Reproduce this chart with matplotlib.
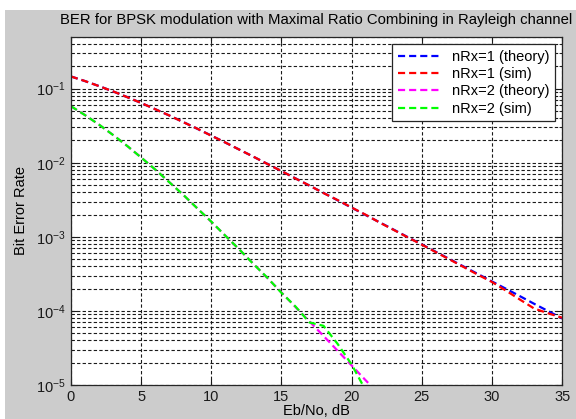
import matplotlib
matplotlib.use('Agg')
import matplotlib.pyplot as plt
from matplotlib.patches import Rectangle
from matplotlib.ticker import LogLocator, FixedLocator
import numpy as np

plt.rcParams['font.family'] = ['Liberation Sans', 'DejaVu Sans']
plt.rcParams['mathtext.default'] = 'regular'

# Eb/No in dB
ebno_1 = list(range(0, 36))
ebno_2 = list(range(0, 23))

# nRx=1, theory and simulation
ber_1_theory = [0.1464, 0.1267, 0.1085, 0.0919, 0.0771, 0.0642, 0.0530, 0.0435, 0.0355, 0.0288,
                0.0233, 0.01875, 0.01506, 0.01208, 0.00966, 0.00772, 0.00616, 0.00491, 0.00392, 0.00312,
                0.00248, 0.00197, 0.00157, 0.00125, 0.000992, 0.000791, 0.000628, 0.000499, 0.000396, 0.000315,
                0.000250, 0.000199, 0.000158, 0.000125, 0.0000996, 0.0000791]
ber_1_sim = [0.1462, 0.1268, 0.1083, 0.0921, 0.0770, 0.0643, 0.0529, 0.0436, 0.0354, 0.0289,
             0.0232, 0.01878, 0.01504, 0.01210, 0.00964, 0.00774, 0.00614, 0.00493, 0.00390, 0.00314,
             0.00249, 0.00199, 0.00156, 0.00124, 0.000985, 0.000786, 0.000622, 0.000493, 0.000390, 0.000308,
             0.000246, 0.000188, 0.000142, 0.000108, 0.0000930, 0.0000810]

# nRx=2, theory and simulation
ber_2_theory = [0.0580, 0.04409, 0.03276, 0.02379, 0.01692, 0.01184, 0.00813, 0.00551, 0.00369, 0.00244,
                0.00160, 0.001042, 0.000674, 0.000434, 0.000278, 0.000178, 0.000113, 0.0000721, 0.0000460, 0.0000291,
                0.0000184, 0.0000116, 0.0000074]
ber_2_sim = [0.0581, 0.04405, 0.03280, 0.02375, 0.01695, 0.01181, 0.00815, 0.00549, 0.00371, 0.00243,
             0.00161, 0.001038, 0.000677, 0.000431, 0.000281, 0.000176, 0.000115, 0.0000700, 0.0000630, 0.0000360,
             0.0000190, 0.0000085, 0.0000030]

fig = plt.figure(figsize=(5.76, 4.19), dpi=100, facecolor='white')
fig.patches.append(Rectangle((5 / 576, 0), 1, 1 - 10 / 419, transform=fig.transFigure,
                             facecolor='#cccccc', edgecolor='none', zorder=-10))
ax = fig.add_axes([0.123, 0.081, 0.853, 0.831])
ax.set_facecolor('white')

dash = (0, (3.2, 1.8))
ax.semilogy(ebno_1, ber_1_theory, color='#0000ff', ls=dash, lw=1.6, label='nRx=1 (theory)')
ax.semilogy(ebno_1, ber_1_sim, color='#ff0000', ls=dash, lw=1.6, label='nRx=1 (sim)')
ax.semilogy(ebno_2, ber_2_theory, color='#ff00ff', ls=dash, lw=1.6, label='nRx=2 (theory)')
ax.semilogy(ebno_2, ber_2_sim, color='#00ff00', ls=dash, lw=1.6, label='nRx=2 (sim)')

ax.set_xlim(0, 35)
ax.set_ylim(1e-5, 0.5)
ax.xaxis.set_major_locator(FixedLocator(range(0, 36, 5)))
ax.yaxis.set_major_locator(LogLocator(base=10, numticks=10))
ax.yaxis.set_minor_locator(LogLocator(base=10, subs=np.arange(2, 10), numticks=10))
ax.yaxis.set_minor_formatter(plt.NullFormatter())

gstyle = dict(color='#1a1a1a', ls=(0, (3, 2)), lw=0.8)
ax.grid(True, which='major', axis='both', **gstyle)
ax.grid(True, which='minor', axis='y', **gstyle)
ax.set_axisbelow(True)

ax.tick_params(which='both', direction='in', top=True, right=True, labelsize=10.5, colors='#1a1a1a')
ax.tick_params(which='major', length=4)
ax.tick_params(which='minor', length=2)
for s in ax.spines.values():
    s.set_color('#262626')
    s.set_linewidth(0.9)

ax.set_title('BER for BPSK modulation with Maximal Ratio Combining in Rayleigh channel',
             fontsize=10.7, pad=9)
ax.set_xlabel('Eb/No, dB', fontsize=10.5, labelpad=0)
ax.set_ylabel('Bit Error Rate', fontsize=10.5, labelpad=6)

leg = ax.legend(loc='upper right', fontsize=10.5, fancybox=False, framealpha=1,
                edgecolor='#262626', borderaxespad=0.5, handlelength=3.0,
                labelspacing=0.22, borderpad=0.4, handletextpad=0.7)
leg.get_frame().set_linewidth(0.9)

fig.savefig('out.png', dpi=100, facecolor=fig.get_facecolor())
